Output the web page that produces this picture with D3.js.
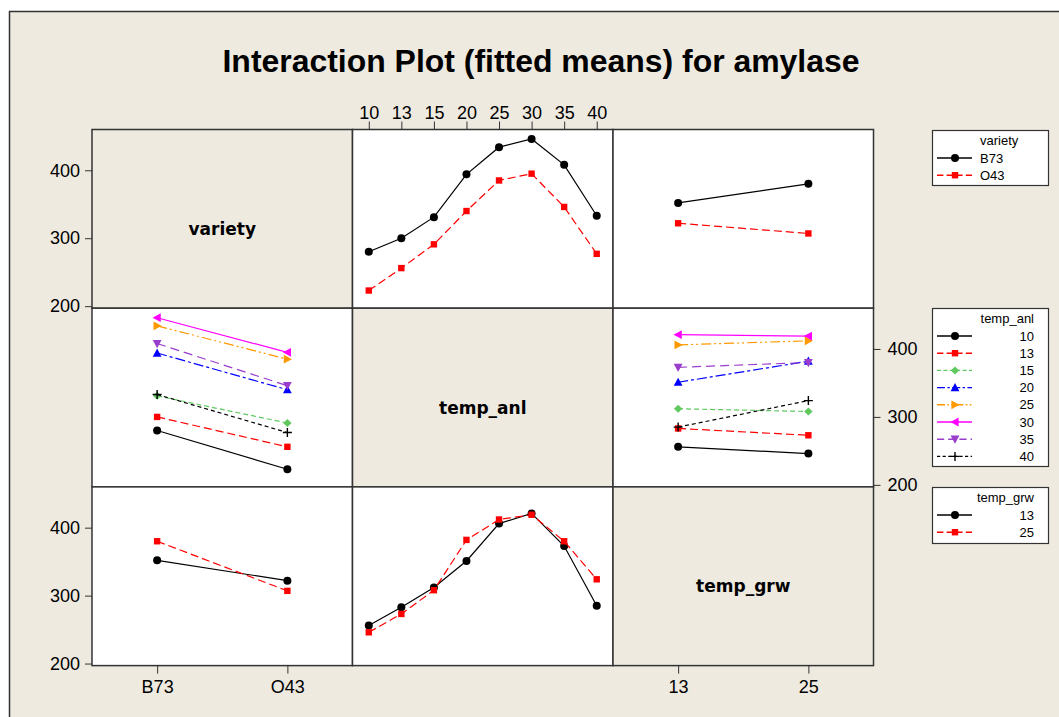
<!DOCTYPE html>
<html>
<head>
<meta charset="utf-8">
<script src="https://cdn.jsdelivr.net/npm/d3@7"></script>
<style>
body { margin: 0; background: #fff; }
text { font-family: "Liberation Sans", Arial, sans-serif; }
</style>
</head>
<body>
<svg id="chart" width="1059" height="717"></svg>
<script>
// Factor levels
const varieties = ["B73", "O43"];
const tempAnl = ["10", "13", "15", "20", "25", "30", "35", "40"];
const tempGrw = ["13", "25"];

// Fitted means: variety x temp_anl
const b73ByAnl = [280, 300, 331, 394, 434, 446, 408, 333];
const o43ByAnl = [223, 256, 291, 340, 385, 395, 346, 277];
// variety x temp_grw
const b73ByGrw = [352, 380];
const o43ByGrw = [322, 307];
// temp_grw x temp_anl
const grw13ByAnl = [256, 283, 312, 351, 406, 421, 373, 285];
const grw25ByAnl = [246, 273, 308, 382, 412, 419, 380, 324];

const yTicks = [200, 300, 400];
const factorNames = ["variety", "temp_anl", "temp_grw"];

const varAnl = [b73ByAnl, o43ByAnl];
const varGrw = [b73ByGrw, o43ByGrw];
const grwAnl = [grw13ByAnl, grw25ByAnl];
const levels = [varieties, tempAnl, tempGrw];

// mean for trace factor f (level i) against x factor g (level j)
function mean(f, i, g, j) {
    if (f === 0 && g === 1) return varAnl[i][j];
    if (f === 1 && g === 0) return varAnl[j][i];
    if (f === 0 && g === 2) return varGrw[i][j];
    if (f === 2 && g === 0) return varGrw[j][i];
    if (f === 2 && g === 1) return grwAnl[i][j];
    if (f === 1 && g === 2) return grwAnl[j][i];
}

// Series styles
const twoStyles = [
    { color: "#000000", dash: null, sym: "circle" },
    { color: "#ff0000", dash: "8,4", sym: "square" }
];
const anlStyles = [
    { color: "#000000", dash: null, sym: "circle" },
    { color: "#ff0000", dash: "8,4", sym: "square" },
    { color: "#5fc95f", dash: "5,3", sym: "diamond" },
    { color: "#0000ff", dash: "10,3,3,3", sym: "up" },
    { color: "#ff9900", dash: "10,3,2,3,2,3", sym: "right" },
    { color: "#ff00ff", dash: null, sym: "left" },
    { color: "#9a3ccc", dash: "9,5", sym: "down" },
    { color: "#000000", dash: "4,3", sym: "plus" }
];
const styles = [twoStyles, anlStyles, twoStyles];

const beige = "#eeeae0";
const dark = "#333";

const svg = d3.select("#chart");

// Background and frame
svg.append("rect").attr("width", 1059).attr("height", 717).attr("fill", "#fff");
svg.append("rect")
    .attr("x", 9.5).attr("y", 11.5)
    .attr("width", 1100).attr("height", 800)
    .attr("fill", beige).attr("stroke", dark).attr("stroke-width", 1.5);

// Title
svg.append("text")
    .attr("x", 541).attr("y", 72)
    .attr("text-anchor", "middle")
    .attr("font-size", "31px")
    .attr("font-weight", "bold")
    .attr("textLength", 637)
    .attr("lengthAdjust", "spacingAndGlyphs")
    .text("Interaction Plot (fitted means) for amylase");

// Panel grid
const gridLeft = 92, gridTop = 129.5;
const pw = 260.5, ph = 178.7;

function styleAxis(ax) {
    ax.select(".domain").remove();
    ax.selectAll(".tick line").attr("stroke", dark);
    ax.selectAll(".tick text")
        .attr("fill", "#000")
        .style("font-family", "'Liberation Sans', Arial, sans-serif")
        .attr("font-size", "18px");
}

function drawSymbol(g, type, x, y, color) {
    const t = `translate(${x},${y})`;
    if (type === "circle") {
        g.append("circle").attr("cx", x).attr("cy", y).attr("r", 4).attr("fill", color);
    } else if (type === "square") {
        g.append("rect").attr("x", x - 3.2).attr("y", y - 3.2)
            .attr("width", 6.4).attr("height", 6.4).attr("fill", color);
    } else if (type === "diamond") {
        g.append("path").attr("transform", t)
            .attr("d", "M0,-4L4.2,0L0,4L-4.2,0Z").attr("fill", color);
    } else if (type === "plus") {
        g.append("path").attr("transform", t)
            .attr("d", "M-4.5,0H4.5M0,-4.5V4.5")
            .attr("stroke", color).attr("stroke-width", 1.4).attr("fill", "none");
    } else {
        const rot = { up: 0, right: 90, down: 180, left: 270 }[type];
        g.append("path").attr("transform", t + ` rotate(${rot})`)
            .attr("d", "M0,-4.6L4.4,3.6L-4.4,3.6Z").attr("fill", color);
    }
}

const line = d3.line().x(d => d[0]).y(d => d[1]);

for (let r = 0; r < 3; r++) {
    const y0 = gridTop + r * ph;
    const y = d3.scaleLinear().domain([197, 460]).range([y0 + ph, y0]);
    for (let c = 0; c < 3; c++) {
        const x0 = gridLeft + c * pw;
        const x = d3.scalePoint().domain(levels[c]).range([x0, x0 + pw]).padding(0.5);
        const g = svg.append("g");

        g.append("rect")
            .attr("x", x0).attr("y", y0)
            .attr("width", pw).attr("height", ph)
            .attr("fill", r === c ? beige : "#fff");

        if (r === c) {
            g.append("text")
                .attr("x", x0 + pw / 2).attr("y", y0 + ph / 2 + 16)
                .attr("text-anchor", "middle")
                .style("font-family", "'DejaVu Sans', sans-serif")
                .attr("font-size", "17px")
                .attr("font-weight", "bold")
                .text(factorNames[r]);
        } else {
            levels[r].forEach((lev, i) => {
                const st = styles[r][i];
                const pts = levels[c].map((xl, j) => [x(xl), y(mean(r, i, c, j))]);
                g.append("path")
                    .attr("d", line(pts))
                    .attr("fill", "none")
                    .attr("stroke", st.color)
                    .attr("stroke-width", 1.2)
                    .attr("stroke-dasharray", st.dash);
                pts.forEach(p => drawSymbol(g, st.sym, p[0], p[1], st.color));
            });
        }

        g.append("rect")
            .attr("x", x0).attr("y", y0)
            .attr("width", pw).attr("height", ph)
            .attr("fill", "none").attr("stroke", dark).attr("stroke-width", 1.5);

        // Axes on outer sides
        if (c === 0 && r !== 1) {
            const ax = svg.append("g").attr("transform", `translate(${x0},0)`)
                .call(d3.axisLeft(y).tickValues(yTicks).tickSize(7).tickPadding(5));
            styleAxis(ax);
        }
        if (c === 2 && r === 1) {
            const ax = svg.append("g").attr("transform", `translate(${x0 + pw},0)`)
                .call(d3.axisRight(y).tickValues(yTicks).tickSize(7).tickPadding(7));
            styleAxis(ax);
        }
        if (r === 0 && c === 1) {
            const ax = svg.append("g").attr("transform", `translate(0,${y0})`)
                .call(d3.axisTop(x).tickSize(8).tickPadding(3));
            styleAxis(ax);
        }
        if (r === 2 && c !== 1) {
            const ax = svg.append("g").attr("transform", `translate(0,${y0 + ph})`)
                .call(d3.axisBottom(x).tickSize(8).tickPadding(7));
            styleAxis(ax);
        }
    }
}

// Legends
const legends = [
    { title: "variety", labels: varieties, styles: twoStyles, y: 130, h: 55, anchor: "start" },
    { title: "temp_anl", labels: tempAnl, styles: anlStyles, y: 308, h: 158, anchor: "end" },
    { title: "temp_grw", labels: tempGrw, styles: twoStyles, y: 487, h: 56, anchor: "end" }
];

legends.forEach(lg => {
    const g = svg.append("g");
    g.append("rect")
        .attr("x", 932.5).attr("y", lg.y + 0.5)
        .attr("width", 116).attr("height", lg.h)
        .attr("fill", "#fff").attr("stroke", dark).attr("stroke-width", 1.2);
    const tx = lg.anchor === "start" ? 980 : 1034;
    g.append("text")
        .attr("x", tx).attr("y", lg.y + 15)
        .attr("text-anchor", lg.anchor)
        .attr("font-size", "13px")
        .text(lg.title);
    lg.labels.forEach((lab, i) => {
        const cy = lg.y + 28 + i * 17.2;
        const st = lg.styles[i];
        g.append("line")
            .attr("x1", 937).attr("x2", 972)
            .attr("y1", cy).attr("y2", cy)
            .attr("stroke", st.color).attr("stroke-width", 1.4)
            .attr("stroke-dasharray", st.dash ? st.dash.split(",").map(v => v * 0.8).join(",") : null);
        drawSymbol(g, st.sym, 955, cy, st.color);
        g.append("text")
            .attr("x", tx).attr("y", cy + 4.5)
            .attr("text-anchor", lg.anchor)
            .attr("font-size", "13px")
            .text(lab);
    });
});
</script>
</body>
</html>
